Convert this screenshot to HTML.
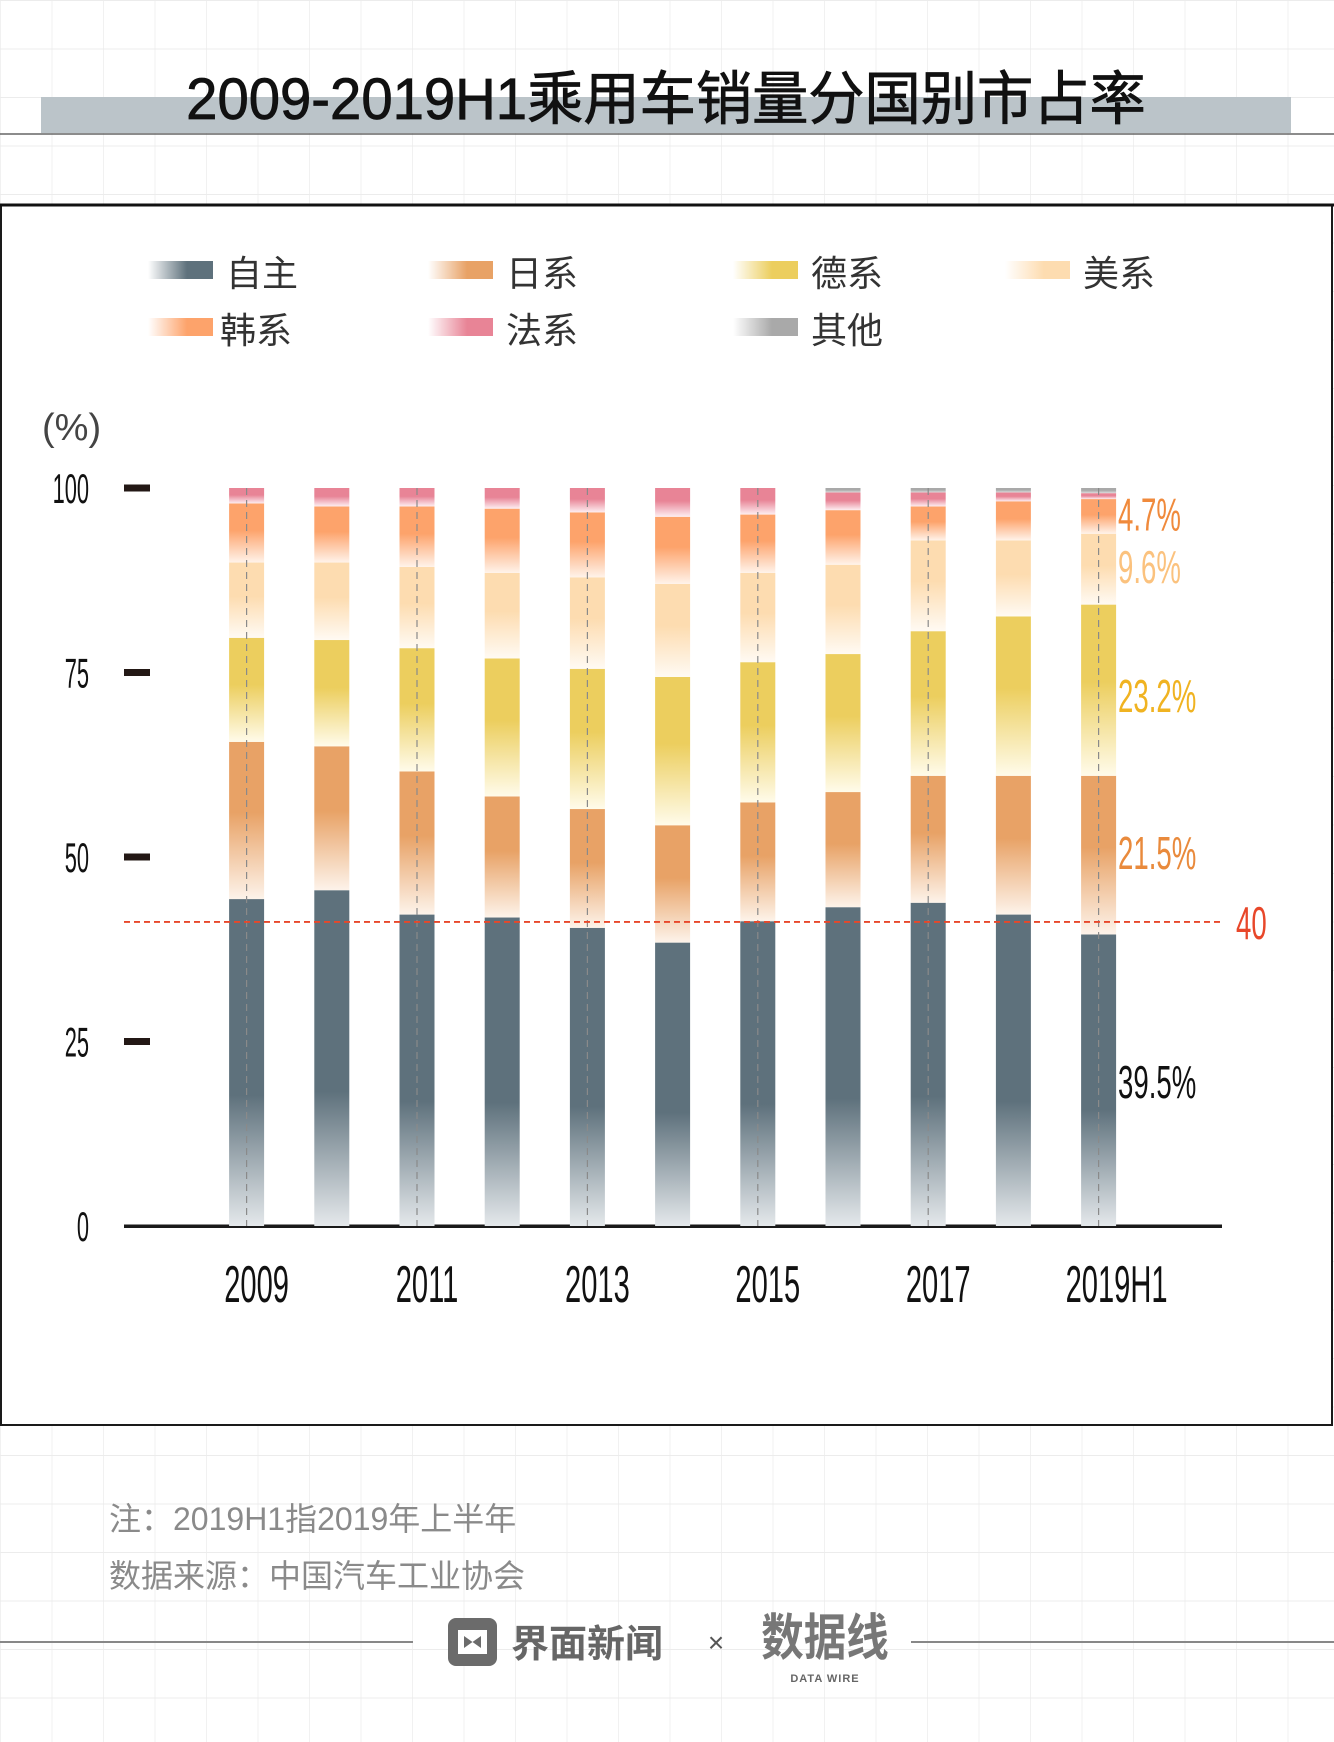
<!DOCTYPE html>
<html><head><meta charset="utf-8">
<style>
html,body{margin:0;padding:0;}
body{width:1334px;height:1742px;background:#fff;
background-image:linear-gradient(#ececec 1px,transparent 1px),linear-gradient(90deg,#f1f1f1 1px,transparent 1px);
background-size:51.5px 48.5px;position:relative;overflow:hidden;}
svg{position:absolute;left:0;top:0;}
text{font-family:"Liberation Sans","Noto Sans CJK SC",sans-serif;}
</style></head>
<body>
<svg width="1334" height="1742" viewBox="0 0 1334 1742" id="chart">
<defs id="defs"></defs>
<rect x="41" y="97" width="1250" height="36" fill="#bbc4c9"/>
<line x1="0" y1="134" x2="1334" y2="134" stroke="#666" stroke-width="1.5"/>
<text x="666" y="119" text-anchor="middle" font-size="58" fill="#111" stroke="#111" stroke-width="0.8" transform="translate(666,0) scale(0.97,1) translate(-666,0)">2009-2019H1乘用车销量分国别市占率</text>
<rect x="1" y="205" width="1331" height="1220" fill="#fff" stroke="#1a1a1a" stroke-width="2"/>
<line x1="0" y1="205" x2="1334" y2="205" stroke="#111" stroke-width="3"/>
<g id="legend"></g>
<text x="42" y="440" font-size="38" fill="#444">(%)</text>
<g id="axes"></g>
<g id="bars"></g>
<g id="ann"></g>
<line x1="0" y1="1642" x2="413" y2="1642" stroke="#888" stroke-width="2"/>
<line x1="911" y1="1642" x2="1334" y2="1642" stroke="#888" stroke-width="2"/>
<text x="109" y="1530" font-size="32" fill="#8a8a8a">注：2019H1指2019年上半年</text>
<text x="109" y="1587" font-size="32" fill="#8a8a8a">数据来源：中国汽车工业协会</text>
<g>
<rect x="448" y="1618" width="49" height="48" rx="8" fill="#6b6b6b"/>
<path d="M458 1630 L487 1630 L487 1654 L458 1654 Z M464 1636 L472.5 1642 L464 1648 Z M481 1636 L472.5 1642 L481 1648 Z" fill="#fff" fill-rule="evenodd"/>
<text x="511" y="1657" font-size="38" font-weight="bold" fill="#666">界面新闻</text>
</g>
<text x="716" y="1652" font-size="28" fill="#555" text-anchor="middle">×</text>
<g>
<text x="825" y="1655" font-size="50" font-weight="bold" fill="#777" text-anchor="middle" transform="translate(825,0) scale(0.85,1) translate(-825,0)">数据线</text>
<text x="825" y="1682" font-size="11" font-weight="bold" fill="#666" text-anchor="middle" letter-spacing="1">DATA WIRE</text>
</g>
</svg>
<script>
const categories=["2009","2010","2011","2012","2013","2014","2015","2016","2017","2018","2019H1"];
const seriesNames=["自主","日系","德系","美系","韩系","法系","其他"];
const zizhu=[44.3,45.5,42.2,41.8,40.4,38.4,41.3,43.2,43.8,42.2,39.5];
const japan=[21.3,19.5,19.4,16.4,16.1,15.9,16.1,15.6,17.2,18.8,21.5];
const german=[14.1,14.4,16.7,18.7,19.0,20.1,19.0,18.7,19.6,21.6,23.2];
const american=[10.2,10.5,11.0,11.6,12.4,12.6,12.1,12.1,12.3,10.3,9.6];
const korean=[8.0,7.6,8.2,8.7,8.8,9.1,7.9,7.4,4.6,5.3,4.7];
const french=[2.1,2.5,2.5,2.8,3.3,3.9,3.6,2.4,1.9,1.2,0.8];
const others=[0,0,0,0,0,0,0,0.6,0.6,0.6,0.7];
const yTicks=[0,25,50,75,100];
const xTickLabels=["2009","","2011","","2013","","2015","","2017","","2019H1"];
const refValue=40;
const refLabel="40";
const lastLabels=["39.5%","21.5%","23.2%","9.6%","4.7%"];

const NS="http://www.w3.org/2000/svg";
const series=[zizhu,japan,german,american,korean,french,others];
const colors=["#5e717c","#e8a266","#ecce5e","#fddcb0","#fda36b","#e88496","#a9a9a9"];
const fades=["#e4e8eb","#fdf3ea","#fffbea","#fffaf3","#fff3ea","#fdeef1","#dddddd"];
const labelColors=["#111","#e98a3c","#f0b321","#fbc27e","#f08a3c"];
const yS=v=>1226-v*7.38;
const xS=i=>246.6+i*85.2;
const BW=35;
function mk(tag,attrs,parent){const e=document.createElementNS(NS,tag);for(const k in attrs)e.setAttribute(k,attrs[k]);parent.appendChild(e);return e;}
const defs=document.getElementById('defs');
colors.forEach((c,k)=>{const g=mk('linearGradient',{id:'g'+k,x1:0,y1:0,x2:0,y2:1},defs);
 mk('stop',{offset:'0',"stop-color":c},g);mk('stop',{offset:k==0?'0.6':'0.45',"stop-color":c},g);mk('stop',{offset:'1',"stop-color":fades[k]},g);});
const leg=document.getElementById('legend');
const lx=[148,428,733,1005],ly=[271,328];
seriesNames.forEach((n,k)=>{
 const col=k<4?k:k-4,row=k<4?0:1;
 const x=lx[col],y=ly[row];
 const gg=mk('linearGradient',{id:'lg'+k,x1:0,y1:0,x2:1,y2:0},defs);
 mk('stop',{offset:'0',"stop-color":"#fff"},gg);mk('stop',{offset:'0.6',"stop-color":colors[k]},gg);
 const r=mk('rect',{x:x,y:y-10,width:65,height:18,fill:'url(#lg'+k+')'},leg);
 
 
 const t=mk('text',{x:x+(row==1&&col==0?72:78),y:y+15,"font-size":36,fill:'#333'},leg);t.textContent=n;
 
 
});
const ax=document.getElementById('axes');
yTicks.forEach(v=>{
 const y=yS(v);
 if(v>0){const tk=mk('rect',{x:124,y:y-3.5,width:26,height:7,fill:'#231815'},ax);
 
 }
 const t=mk('text',{transform:`translate(89,${y+15}) scale(0.52,1)`,"text-anchor":"end","font-size":42,fill:'#111'},ax);
 t.textContent=v;
 
 
});
const bars=document.getElementById('bars');
categories.forEach((c,i)=>{
 let cum=0;const x=xS(i);
 const g=mk('g',{},bars);
 
 
 series.forEach((s,k)=>{
  const v=s[i];if(v<=0){return;}
  const y0=yS(cum),y1=yS(cum+v);cum+=v;
  const r=mk('rect',{x:x-BW/2,y:y1,width:BW,height:y0-y1,fill:'url(#g'+k+')'},g);
  
  
 });
 if(xTickLabels[i]){
  mk('line',{x1:x,y1:yS(100),x2:x,y2:yS(0),stroke:'#8a8a8a',"stroke-width":1.2,"stroke-dasharray":"7 5"},bars);
  const t=mk('text',{transform:`translate(${x+10+(i==10?8:0)},1302) scale(0.56,1)`,"text-anchor":"middle","font-size":52,fill:'#111'},bars);
  t.textContent=xTickLabels[i];
  
  
 }
});
mk('rect',{x:124,y:yS(0)-1.5,width:1098,height:3.5,fill:'#1a1a1a'},ax);
const ry=yS(refValue+1.2);
const rl=mk('line',{x1:124,y1:ry,x2:1222,y2:ry,stroke:'#e8472a',"stroke-width":1.8,"stroke-dasharray":"6 4"},bars);


const rt=mk('text',{transform:`translate(1236,${ry+17}) scale(0.6,1)`,"font-size":46,fill:'#e8472a'},bars);
rt.textContent=refLabel;


const ann=document.getElementById('ann');
let cum=0;const li=categories.length-1;const offs=[18,14,22,14,14];
lastLabels.forEach((l,k)=>{
 const v=series[k][li];const mid=cum+v/2;cum+=v;
 const t=mk('text',{transform:`translate(1118,${yS(mid)+offs[k]}) scale(0.6,1)`,"font-size":46,fill:labelColors[k]},ann);
 t.textContent=l;
 
 
});
</script>
</body></html>
